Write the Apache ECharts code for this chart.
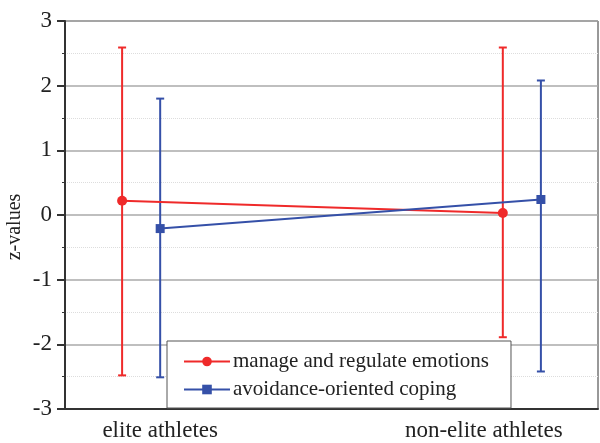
<!DOCTYPE html>
<html>
<head>
<meta charset="utf-8">
<script src="https://cdn.jsdelivr.net/npm/echarts@6/dist/echarts.min.js"></script>
<style>
  html, body { margin: 0; padding: 0; background: #fff; }
  #chart { width: 600px; height: 443px; }
</style>
</head>
<body>
<div id="chart"></div>
<script>
// groups on the x axis (positions 1 and 2)
var groups = ['elite athletes', 'non-elite athletes'];
var groupPos = [1, 2];
var labelPos = [1.05, 1.9];

// z-values: mean, lower and upper error limits
var emoMean = [0.22, 0.03];
var emoLow = [-2.48, -1.89];
var emoHigh = [2.59, 2.59];

var copeMean = [-0.21, 0.24];
var copeLow = [-2.51, -2.42];
var copeHigh = [1.80, 2.08];

var red = '#ef2a2a';
var blue = '#3550a8';
var font = 'Liberation Serif';

function points(mean, shift) {
  return mean.map(function (v, i) { return [groupPos[i] + shift, v]; });
}
function bars(low, high, shift) {
  return low.map(function (v, i) { return [groupPos[i] + shift, v, high[i]]; });
}

function errorBar(params, api) {
  var top = api.coord([api.value(0), api.value(2)]);
  var bot = api.coord([api.value(0), api.value(1)]);
  var cap = 4;
  var style = { stroke: api.visual('color'), lineWidth: 2 };
  return {
    type: 'group',
    children: [
      { type: 'line', shape: { x1: top[0], y1: top[1], x2: bot[0], y2: bot[1] }, style: style },
      { type: 'line', shape: { x1: top[0] - cap, y1: top[1], x2: top[0] + cap, y2: top[1] }, style: style },
      { type: 'line', shape: { x1: bot[0] - cap, y1: bot[1], x2: bot[0] + cap, y2: bot[1] }, style: style }
    ]
  };
}

var chart = echarts.init(document.getElementById('chart'));

chart.setOption({
  animation: false,
  textStyle: { fontFamily: font },
  grid: {
    left: 65, right: 2, top: 21, bottom: 34,
    outerBoundsMode: 'none',
    show: true, borderColor: '#333', borderWidth: 1
  },
  legend: {
    data: ['manage and regulate emotions', 'avoidance-oriented coping'],
    orient: 'vertical',
    left: 167, top: 341,
    padding: [10, 22, 8, 16],
    itemWidth: 46, itemHeight: 12, itemGap: 7,
    backgroundColor: '#fff',
    borderColor: '#555', borderWidth: 1,
    textStyle: { fontFamily: font, fontSize: 21, color: '#222', lineHeight: 18, padding: [0, 0, 0, -2] }
  },
  xAxis: {
    type: 'value',
    min: 0.8, max: 2.2,
    axisLine: { show: true, onZero: false, lineStyle: { color: '#333', width: 2 } },
    axisTick: { show: false },
    splitLine: { show: false },
    axisLabel: {
      customValues: labelPos,
      margin: 10,
      fontFamily: font, fontSize: 23, color: '#222',
      formatter: function (v) {
        return groups[labelPos.indexOf(v)] || '';
      }
    }
  },
  yAxis: {
    type: 'value',
    min: -3, max: 3, interval: 1,
    name: 'z-values',
    nameLocation: 'middle',
    nameGap: 40,
    nameMoveOverlap: false,
    nameTextStyle: { fontFamily: font, fontSize: 20, color: '#222', padding: [0, 24, 0, 0] },
    axisLine: { show: true, lineStyle: { color: '#333', width: 2 } },
    axisTick: { show: true, length: 8, lineStyle: { color: '#333', width: 2 } },
    minorTick: { show: true, splitNumber: 2, length: 3, lineStyle: { color: '#333', width: 1 } },
    axisLabel: { margin: 13, fontFamily: font, fontSize: 23, color: '#222' },
    splitLine: { show: true, lineStyle: { color: '#aaa', width: 1.5 } },
    minorSplitLine: { show: true, lineStyle: { color: '#ddd', type: 'dotted', width: 1 } }
  },
  series: [
    {
      name: 'emo-err', type: 'custom', renderItem: errorBar,
      itemStyle: { color: red }, encode: { x: 0, y: [1, 2] },
      data: bars(emoLow, emoHigh, -0.05), z: 2
    },
    {
      name: 'cope-err', type: 'custom', renderItem: errorBar,
      itemStyle: { color: blue }, encode: { x: 0, y: [1, 2] },
      data: bars(copeLow, copeHigh, 0.05), z: 3
    },
    {
      name: 'manage and regulate emotions', type: 'line',
      symbol: 'circle', symbolSize: 10,
      itemStyle: { color: red }, lineStyle: { color: red, width: 2 },
      data: points(emoMean, -0.05), z: 4
    },
    {
      name: 'avoidance-oriented coping', type: 'line',
      symbol: 'rect', symbolSize: 9,
      itemStyle: { color: blue }, lineStyle: { color: blue, width: 2 },
      data: points(copeMean, 0.05), z: 4
    }
  ]
});
</script>
</body>
</html>
